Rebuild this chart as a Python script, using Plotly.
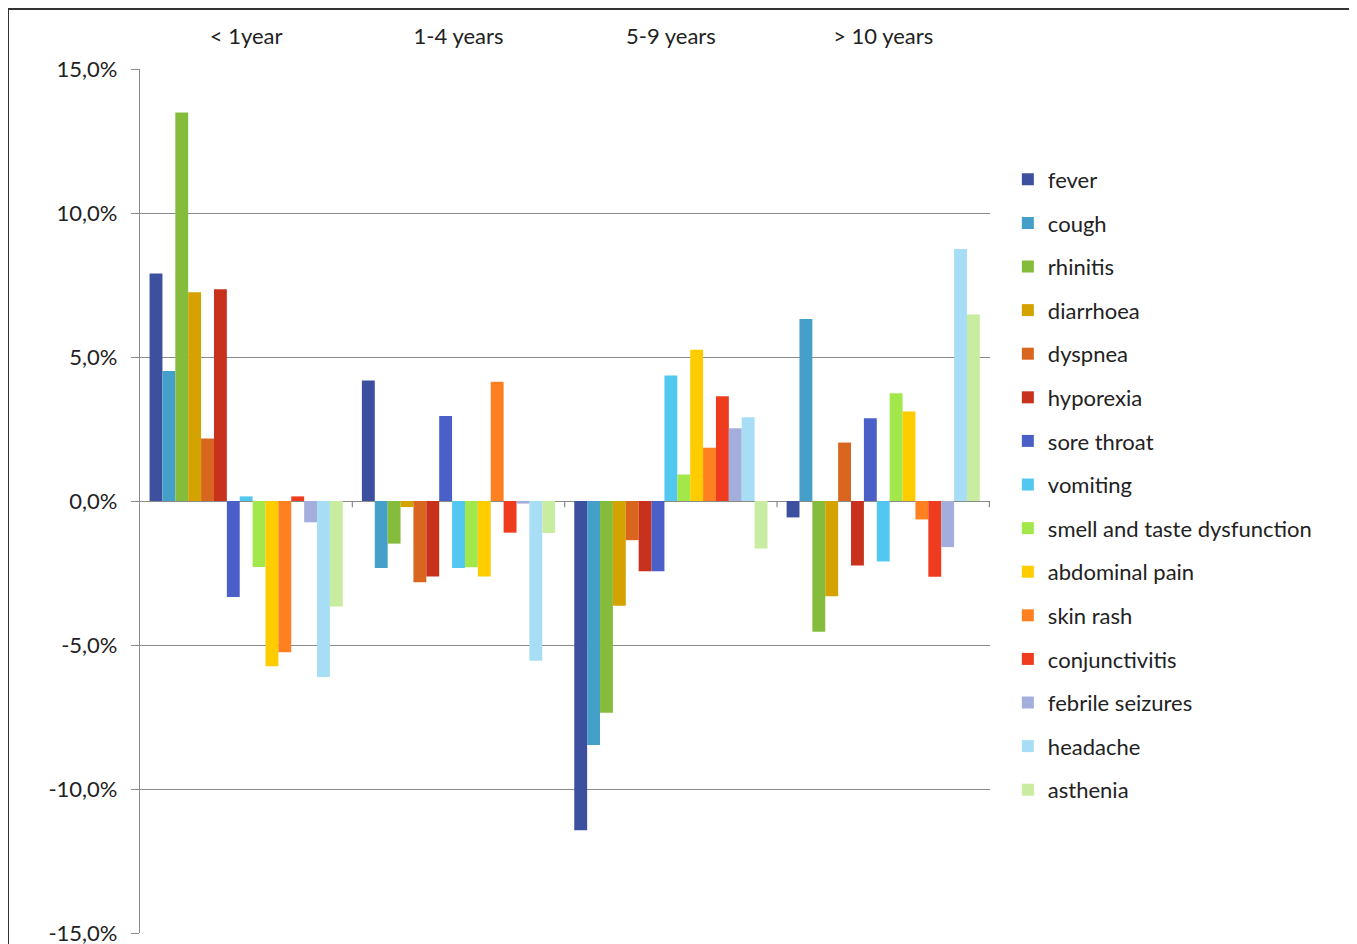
import plotly.graph_objects as go

age_groups = ["< 1year", "1-4 years", "5-9 years", "> 10 years"]

symptoms = ["fever", "cough", "rhinitis", "diarrhoea", "dyspnea", "hyporexia",
            "sore throat", "vomiting", "smell and taste dysfunction", "abdominal pain",
            "skin rash", "conjunctivitis", "febrile seizures", "headache", "asthenia"]

colors = ["#3D50A0", "#44A0C8", "#86BC3C", "#D4A300", "#D8661E", "#C8321D",
          "#4A60C8", "#52C8F0", "#A2E84A", "#FFCC00", "#FF8020", "#F03C1E",
          "#A4AEDC", "#A8DEF5", "#C8EDA0"]

# values in % per symptom, for the 4 age groups
fever = [7.9, 4.18, -11.43, -0.57]
cough = [4.51, -2.33, -8.47, 6.32]
rhinitis = [13.49, -1.48, -7.35, -4.54]
diarrhoea = [7.25, -0.21, -3.64, -3.31]
dyspnea = [2.17, -2.82, -1.36, 2.03]
hyporexia = [7.35, -2.62, -2.44, -2.24]
sore_throat = [-3.33, 2.95, -2.44, 2.87]
vomiting = [0.16, -2.33, 4.36, -2.10]
smell_taste = [-2.29, -2.30, 0.92, 3.74]
abdominal_pain = [-5.74, -2.62, 5.25, 3.11]
skin_rash = [-5.25, 4.14, 1.85, -0.64]
conjunctivitis = [0.16, -1.10, 3.64, -2.63]
febrile_seizures = [-0.74, -0.09, 2.53, -1.60]
headache = [-6.11, -5.55, 2.91, 8.75]
asthenia = [-3.66, -1.11, -1.65, 6.48]

series = [fever, cough, rhinitis, diarrhoea, dyspnea, hyporexia, sore_throat,
          vomiting, smell_taste, abdominal_pain, skin_rash, conjunctivitis,
          febrile_seizures, headache, asthenia]

y_ticks = [-15, -10, -5, 0, 5, 10, 15]
y_tick_labels = ["-15,0%", "-10,0%", "-5,0%", "0,0%", "5,0%", "10,0%", "15,0%"]

fig = go.Figure()
for name, vals, col in zip(symptoms, series, colors):
    fig.add_trace(go.Bar(name=name, x=age_groups, y=vals, marker_color=col,
                         marker_line_width=0, legendgroup=name))

grid_col = "#8a8a8a"
W, H = 1349, 936
L, R, T, B = 132, 367, 61, 11
PW, PH = W - L - R, H - T - B

fig.update_layout(
    width=W, height=H,
    paper_bgcolor="white", plot_bgcolor="white",
    barmode="group", bargap=0.09, bargroupgap=0,
    font=dict(family="Lato, Open Sans, sans-serif", size=20, color="#222"),
    margin=dict(l=L, r=R, t=T, b=B, autoexpand=False),
    showlegend=True,
    legend=dict(x=1.021, y=0.5185, xanchor="left", yanchor="middle",
                font=dict(size=22), tracegroupgap=12, itemwidth=30,
                bgcolor="rgba(0,0,0,0)"),
    xaxis=dict(side="top", showline=False, showgrid=False, ticks="outside",
               ticklen=15, tickcolor="rgba(0,0,0,0)", tickfont=dict(size=22),
               zeroline=False, automargin=False),
    yaxis=dict(range=[-15, 15], tickvals=y_ticks, ticktext=y_tick_labels,
               showgrid=True, gridcolor=grid_col, gridwidth=1.2,
               zeroline=True, zerolinecolor=grid_col, zerolinewidth=1.2,
               showline=True, linecolor=grid_col, linewidth=1.2,
               ticks="outside", ticklen=8, tickcolor=grid_col,
               ticklabelstandoff=9, ticklabeloverflow="allow",
               tickfont=dict(size=22), automargin=False),
)

# small tick marks at the group boundaries on the zero line
shapes = []
for b in [0.5, 1.5, 2.5, 3.5]:
    shapes.append(dict(type="line", xref="x", yref="y", x0=b, x1=b, y0=0, y1=-0.22,
                       line=dict(color=grid_col, width=1.2)))
# outer frame
shapes.append(dict(type="rect", xref="paper", yref="paper",
                   x0=(0 - L) / PW, x1=(1342 - L) / PW,
                   y0=-0.1, y1=(T + PH - 1) / PH,
                   line=dict(color="#333", width=2), fillcolor="rgba(0,0,0,0)"))
fig.update_layout(shapes=shapes)

fig.write_html("out.html")
